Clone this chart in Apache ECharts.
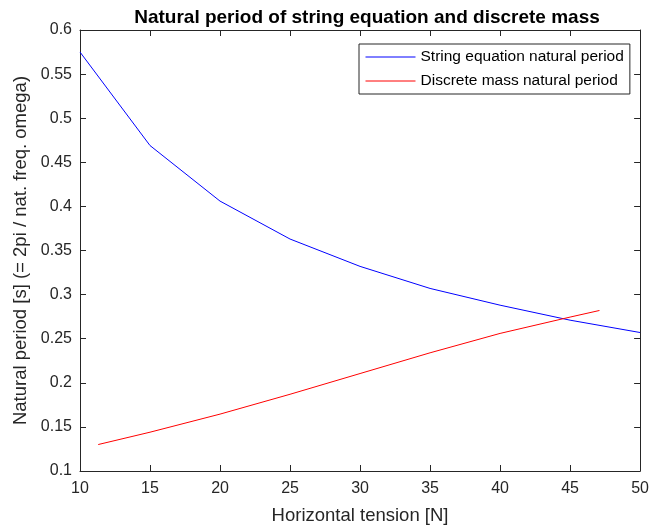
<!DOCTYPE html>
<html>
<head>
<meta charset="utf-8">
<script src="https://cdn.jsdelivr.net/npm/echarts@6/dist/echarts.min.js"></script>
<style>
  html, body { margin: 0; padding: 0; background: #fff; }
  #periodChart { width: 652px; height: 530px; }
</style>
</head>
<body>
<div id="periodChart"></div>
<script>
// tension [N] vs natural period [s]
var stringTension = [10, 15, 20, 25, 30, 35, 40, 45, 50];
var stringPeriod = [0.575, 0.469, 0.406, 0.363, 0.332, 0.307, 0.288, 0.271, 0.257];
var massTension = [11.3, 15, 20, 25, 30, 35, 40, 45, 47.1];
var massPeriod = [0.130, 0.144, 0.1645, 0.187, 0.2105, 0.234, 0.256, 0.2745, 0.282];
var seriesNames = ['String equation natural period', 'Discrete mass natural period'];

var axisColor = '#262626';
var fontFamily = '"Liberation Sans", Arial, Helvetica, sans-serif';

function pairs(xs, ys) {
  return xs.map(function(x, i) { return [x, ys[i]]; });
}

// box axes: top and right copies, ticks only
function boxAxis(pos, min, max, interval) {
  return {
    type: 'value',
    position: pos,
    min: min,
    max: max,
    interval: interval,
    axisLine: {show: true, lineStyle: {color: axisColor, width: 1}},
    axisTick: {show: true, inside: true, length: 6, lineStyle: {color: axisColor}},
    axisLabel: {show: false},
    splitLine: {show: false}
  };
}

var chartId = echarts.init(document.getElementById('periodChart'));

var chart = {
  animation: false,
  textStyle: {fontFamily: fontFamily},
  title: {
    text: 'Natural period of string equation and discrete mass',
    left: 362,
    textAlign: 'center',
    top: 3,
    textStyle: {
      fontFamily: fontFamily,
      fontSize: 19,
      fontWeight: 'bold',
      color: '#000'
    }
  },
  grid: {left: 80, right: 9, top: 30, bottom: 57, containLabel: false},
  legend: {
    orient: 'vertical',
    left: 359,
    top: 44,
    padding: [5, 6, 5, 6],
    itemGap: 8,
    itemWidth: 50,
    itemHeight: 14,
    backgroundColor: '#fff',
    borderColor: axisColor,
    borderWidth: 1,
    borderRadius: 0,
    // hide the marker, keep a thin line
    itemStyle: {opacity: 0},
    lineStyle: {width: 1},
    textStyle: {fontFamily: fontFamily, fontSize: 15.5, color: '#000'},
    data: seriesNames
  },
  xAxis: [
    {
      type: 'value',
      position: 'bottom',
      min: 10,
      max: 50,
      interval: 5,
      name: 'Horizontal tension [N]',
      nameLocation: 'middle',
      nameGap: 35,
      nameTextStyle: {fontFamily: fontFamily, fontSize: 18.5, color: axisColor},
      axisLine: {show: true, lineStyle: {color: axisColor, width: 1}},
      axisTick: {show: true, inside: true, length: 6, lineStyle: {color: axisColor}},
      axisLabel: {fontFamily: fontFamily, fontSize: 16, color: axisColor, margin: 10},
      splitLine: {show: false}
    },
    boxAxis('top', 10, 50, 5)
  ],
  yAxis: [
    {
      type: 'value',
      position: 'left',
      min: 0.1,
      max: 0.6,
      interval: 0.05,
      name: 'Natural period [s] (= 2pi / nat. freq. omega)',
      nameLocation: 'middle',
      nameGap: 48,
      nameTextStyle: {fontFamily: fontFamily, fontSize: 18.5, color: axisColor},
      axisLine: {show: true, lineStyle: {color: axisColor, width: 1}},
      axisTick: {show: true, inside: true, length: 6, lineStyle: {color: axisColor}},
      axisLabel: {fontFamily: fontFamily, fontSize: 16, color: axisColor, margin: 8},
      splitLine: {show: false}
    },
    boxAxis('right', 0.1, 0.6, 0.05)
  ],
  series: [
    {
      name: seriesNames[0],
      type: 'line',
      symbol: 'none',
      xAxisIndex: 0,
      yAxisIndex: 0,
      lineStyle: {color: '#0000ff', width: 1},
      itemStyle: {color: '#0000ff'},
      data: pairs(stringTension, stringPeriod)
    },
    {
      name: seriesNames[1],
      type: 'line',
      symbol: 'none',
      xAxisIndex: 0,
      yAxisIndex: 0,
      lineStyle: {color: '#ff0000', width: 1},
      itemStyle: {color: '#ff0000'},
      data: pairs(massTension, massPeriod)
    }
  ]
};

chartId.setOption(chart);
</script>
</body>
</html>
